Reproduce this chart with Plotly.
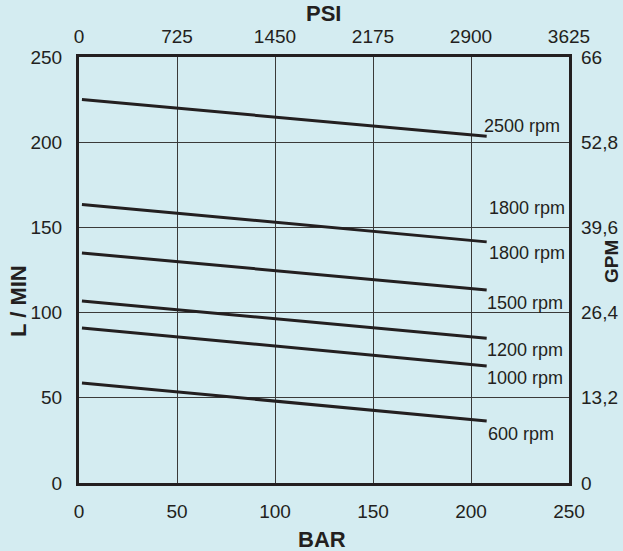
import plotly.graph_objects as go

# ---- data ----
pressure_bar = [1.5, 208]
flow_2500 = [225, 203.5]
flow_1800 = [163.5, 141.5]
flow_1500 = [135, 113.3]
flow_1200 = [106.8, 85]
flow_1000 = [91, 68.7]
flow_600 = [58.7, 36.4]
series = [flow_2500, flow_1800, flow_1500, flow_1200, flow_1000, flow_600]

bar_ticks = [0, 50, 100, 150, 200, 250]
lmin_ticks = [0, 50, 100, 150, 200, 250]
psi_ticks = [0, 725, 1450, 2175, 2900, 3625]
gpm_ticks = [0, 13.2, 26.4, 39.6, 52.8, 66]
gpm_labels = ["0", "13,2", "26,4", "39,6", "52,8", "66"]

rpm_labels = ["2500 rpm", "1800 rpm", "1800 rpm", "1500 rpm", "1200 rpm", "1000 rpm", "600 rpm"]
rpm_label_x = [205.6, 208.2, 208.2, 207.1, 207.1, 207.1, 207.6]
rpm_label_y = [209.5, 161.4, 135, 105.6, 78, 61.6, 28.8]

INK = "#231f20"
BG = "#d4ecf1"
FONT = "Liberation Sans, Arial, sans-serif"

W, H = 623, 551
ml, mr, mt, mb = 79, 54, 57, 68
pw, ph = W - ml - mr, H - mt - mb

fig = go.Figure()
for s in series:
    fig.add_trace(go.Scatter(x=pressure_bar, y=s, mode="lines",
                             line=dict(color=INK, width=3), showlegend=False,
                             hoverinfo="skip"))
# invisible trace for secondary axes
fig.add_trace(go.Scatter(x=[0], y=[0], xaxis="x2", yaxis="y2", mode="markers",
                         marker=dict(opacity=0), showlegend=False, hoverinfo="skip"))

for t, x, y in zip(rpm_labels, rpm_label_x, rpm_label_y):
    fig.add_annotation(x=x, y=y, text=t, showarrow=False, xanchor="left",
                       yanchor="middle", font=dict(size=18, color=INK, family=FONT))

annos = [
    dict(text="<b>PSI</b>", x=323, y=13, angle=0, size=22),
    dict(text="<b>BAR</b>", x=322, y=539, angle=0, size=22),
    dict(text="<b>L / MIN</b>", x=18, y=301, angle=-90, size=22),
    dict(text="<b>GPM</b>", x=611, y=262, angle=-90, size=19),
]
for a in annos:
    fig.add_annotation(x=(a["x"] - ml) / pw, y=1 - (a["y"] - mt) / ph,
                       xref="paper", yref="paper",
                       text=a["text"], textangle=a["angle"], showarrow=False,
                       xanchor="center", yanchor="middle", borderpad=0,
                       font=dict(size=a["size"], color=INK, family=FONT))

tick_font = dict(size=19, color=INK, family=FONT)
fig.update_layout(
    width=W, height=H,
    margin=dict(l=ml, r=mr, t=mt, b=mb, autoexpand=False),
    paper_bgcolor=BG, plot_bgcolor=BG,
    xaxis=dict(range=[0, 250], tickvals=bar_ticks, showgrid=True, gridcolor="#3a3a3a",
               gridwidth=1, showline=True, linecolor=INK, linewidth=3, mirror=True,
               zeroline=False, tickfont=tick_font, ticks="", ticklabelstandoff=9,
               fixedrange=True, automargin=False),
    yaxis=dict(range=[0, 250], tickvals=lmin_ticks, showgrid=True, gridcolor="#3a3a3a",
               gridwidth=1, showline=True, linecolor=INK, linewidth=3, mirror=True,
               zeroline=False, tickfont=tick_font, ticks="", ticklabelstandoff=10,
               fixedrange=True, automargin=False),
    xaxis2=dict(range=[0, 3625], tickvals=psi_ticks, overlaying="x", side="top",
                showgrid=False, showline=False, zeroline=False, tickfont=tick_font,
                ticks="", ticklabelstandoff=9, fixedrange=True, automargin=False),
    yaxis2=dict(range=[0, 66], tickvals=gpm_ticks, ticktext=gpm_labels, overlaying="y",
                side="right", showgrid=False, showline=False, zeroline=False,
                tickfont=tick_font, ticks="", ticklabelstandoff=11, fixedrange=True,
                automargin=False),
    showlegend=False,
)

fig.write_html("out.html", config={"displayModeBar": False},
               post_script="document.body.style.margin='0';document.body.style.background='%s';" % BG)
